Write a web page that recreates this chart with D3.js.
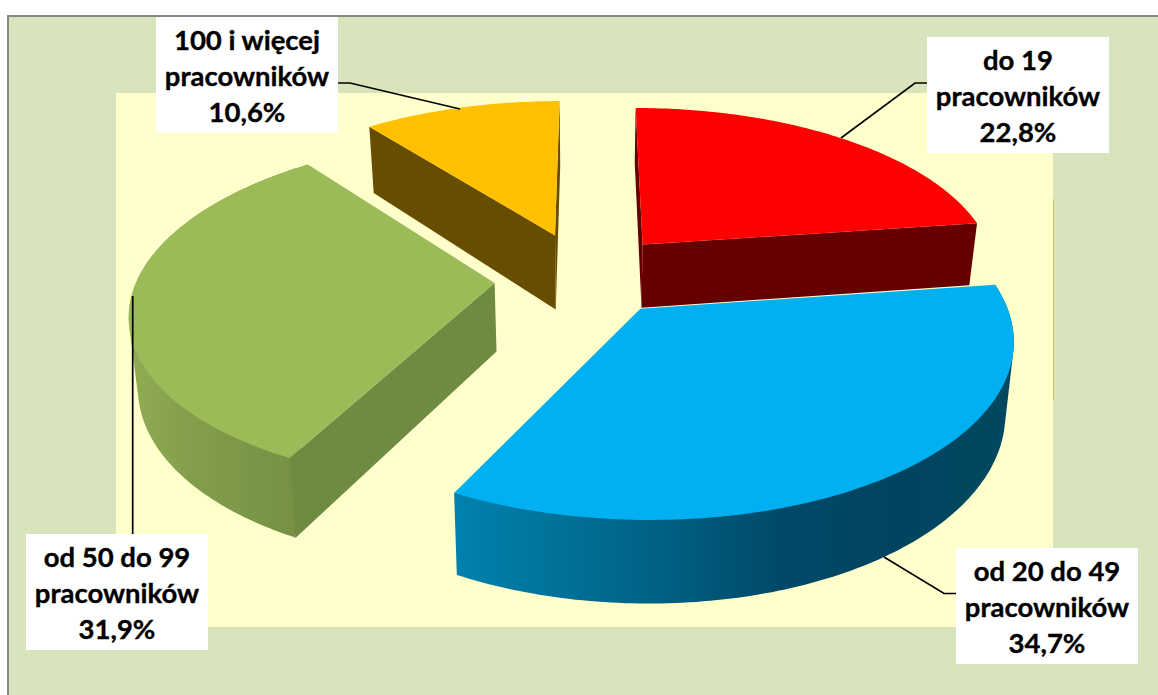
<!DOCTYPE html>
<html><head><meta charset="utf-8">
<script src="https://cdnjs.cloudflare.com/ajax/libs/d3/7.8.5/d3.min.js"></script>
<style>html,body{margin:0;padding:0;background:#fff;overflow:hidden}svg{display:block}</style>
</head><body><svg id="c" width="1158" height="695"></svg>
<script>
const categories = ["do 19", "od 20 do 49", "od 50 do 99", "100 i więcej"];
const unitLine = "pracowników";
const shares = [22.8, 34.7, 31.9, 10.6];
const explosionX = [0.152, 0.137, -0.266, -0.102];
const explosionY = [0.188, -0.196, -0.047, 0.247];
const depths = [65, 68, 68, 77];
const topColors = ["#ff0000", "#00b0f0", "#9bbb59", "#ffc000"];
const sideColors = ["#660000", "#004d6b", "#6f8a41", "#664d00"];
const labelBoxes = [[927,37],[956,548],[26,534],[156,17]];
const leaders = [
  [[927,83],[915,83],[841,138]],
  [[956,593.5],[944,593.5],[884,557]],
  [[132.7,534],[132.7,296]],
  [[338,83],[350,83],[460,109]]
];
const W=1158,H=695;
const svg=d3.select("#c");
const defs=svg.append("defs");
function grad(id,x1,x2,stops){
  const g=defs.append("linearGradient").attr("id",id).attr("gradientUnits","userSpaceOnUse")
    .attr("x1",x1).attr("x2",x2).attr("y1",0).attr("y2",0);
  stops.forEach(s=>g.append("stop").attr("offset",s[0]).attr("stop-color",s[1]));
}
grad("blueWall",453,1010,[[0,"#0082ae"],[0.34,"#006488"],[0.58,"#004a68"],[0.78,"#004460"],[1,"#00485f"]]);
grad("greenWall",133,302,[[0,"#8fac52"],[0.3,"#84a04c"],[0.7,"#7a9647"],[1,"#759044"]]);

// frame
svg.append("rect").attr("x",8).attr("y",16).attr("width",W).attr("height",H).attr("fill","#d8e4bc").attr("stroke","#868686").attr("stroke-width",2);
svg.append("rect").attr("x",116).attr("y",93).attr("width",937).attr("height",534).attr("fill","#ffffcc");
svg.append("line").attr("x1",1053.5).attr("x2",1053.5).attr("y1",199).attr("y2",400).attr("stroke","#d9b860").attr("stroke-width",1);

// perspective projection
const X0=590,Y0=275,A=166.6,B=356,K=0.156,BOTTOM_SHRINK=0.98;
function proj(px,py,depth){
  const w=1+K*py;
  let x=X0+B*px/w, y=Y0-A*py/w;
  if(depth){ x=X0+(x-X0)*BOTTOM_SHRINK; y+=depth/w; }
  return [x,y];
}
const pie=d3.pie().sort(null).value(d=>d)(shares);
const line=d3.line();
const slices=pie.map((p,i)=>{
  const ox=explosionX[i], oy=explosionY[i], dp=depths[i];
  const at=(t,b)=>proj(ox+Math.sin(t),oy+Math.cos(t),b?dp:0);
  const apex=b=>proj(ox,oy,b?dp:0);
  const arc=(t0,t1,b)=>{const n=Math.max(2,Math.round(Math.abs(t1-t0)*60));return d3.range(n+1).map(k=>at(t0+(t1-t0)*k/n,b));};
  return {p,i,at,apex,arc};
});
const drawOrder=[3,2,0,1];
const edge=(s,t)=>line([s.apex(false),s.at(t,false),s.at(t,true),s.apex(true)])+"Z";
const wall=(s,t0,t1)=>line(d3.polygonHull(s.arc(t0,t1,false).concat(s.arc(t0,t1,true))))+"Z";
drawOrder.forEach(i=>{
  const s=slices[i],a0=s.p.startAngle,a1=s.p.endAngle;
  const sg=svg.append("g");
  if(i===0){
    sg.append("path").attr("d",edge(s,a1)).attr("fill",sideColors[i]);
    sg.append("path").attr("d",edge(s,a0)).attr("fill",sideColors[i]);
  }
  if(i===1) sg.append("path").attr("d",wall(s,a0,a1)).attr("fill","url(#blueWall)");
  if(i===2){
    sg.append("path").attr("d",wall(s,a0,a1)).attr("fill","url(#greenWall)");
    sg.append("path").attr("d",edge(s,a0)).attr("fill",sideColors[i]);
  }
  if(i===3){
    sg.append("path").attr("d",edge(s,a0)).attr("fill",sideColors[i]);
    sg.append("path").attr("d",edge(s,a1)).attr("fill",sideColors[i]);
  }
  sg.append("path").attr("d",line([s.apex(false)].concat(s.arc(a0,a1,false)))+"Z").attr("fill",topColors[i]);
});
// leaders
svg.append("g").selectAll("path").data(leaders).join("path")
  .attr("d",d=>line(d)).attr("fill","none").attr("stroke","#000").attr("stroke-width",1.7);
// labels
const boxW=182,boxH=116,lineH=36;
const fmt=v=>v.toFixed(1).replace(".",",")+"%";
categories.forEach((c,i)=>{
  const [x,y]=labelBoxes[i];
  const lg=svg.append("g").attr("transform",`translate(${x},${y})`);
  lg.append("rect").attr("width",boxW).attr("height",boxH).attr("fill","#fff");
  [c,unitLine,fmt(shares[i])].forEach((t,k)=>{
    lg.append("text").attr("x",boxW/2).attr("y",32.5+k*lineH).attr("text-anchor","middle")
      .attr("font-family","Lato, 'Open Sans', sans-serif").attr("font-weight",700).attr("font-size",27.5)
      .attr("fill","#000").attr("stroke","#000").attr("stroke-width",0.35).text(t);
  });
});
</script></body></html>
